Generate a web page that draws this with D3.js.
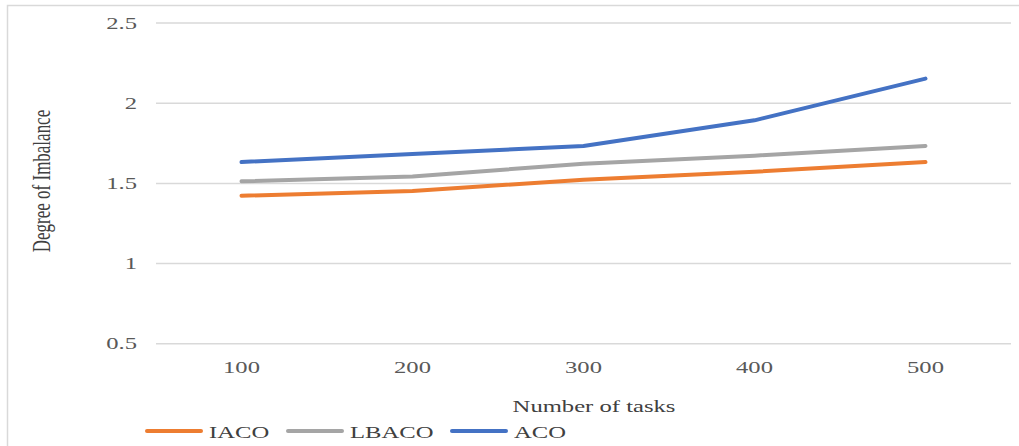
<!DOCTYPE html>
<html>
<head>
<meta charset="utf-8">
<script src="https://cdn.jsdelivr.net/npm/d3@7"></script>
<style>
  html, body { margin: 0; padding: 0; background: #fff; }
  svg { display: block; }
</style>
</head>
<body>
<svg id="chart" width="1019" height="446"></svg>
<script>
// Degree of imbalance by number of tasks for three scheduling algorithms
const categories = ["100", "200", "300", "400", "500"];
const seriesNames = ["IACO", "LBACO", "ACO"];
const iaco  = [1.42, 1.45, 1.52, 1.57, 1.63];
const lbaco = [1.51, 1.54, 1.62, 1.67, 1.73];
const aco   = [1.63, 1.68, 1.73, 1.89, 2.15];
const yTicks = [0.5, 1, 1.5, 2, 2.5];
const colors = ["#ED7D31", "#A5A5A5", "#4472C4"];

const svg = d3.select("#chart");
const W = 1019, H = 446;
const plotLeft = 156, plotRight = 1011, plotTop = 22.5, plotBottom = 343.3;
const SX = 1.45;              // horizontal text stretch
const serif = "'Liberation Serif', 'Times New Roman', serif";

// Outer chart frame
svg.append("rect")
  .attr("x", 7.5).attr("y", 5.5)
  .attr("width", W + 10).attr("height", H + 10)
  .attr("fill", "#fff").attr("stroke", "#d9d9d9").attr("stroke-width", 1.5);

const x = d3.scalePoint().domain(categories).range([plotLeft, plotRight]).padding(0.5);
const y = d3.scaleLinear().domain([0.5, 2.5]).range([plotBottom, plotTop]);

// helper: stretched text anchored at (px, py)
function label(parent, px, py, txt, anchor, size, fill) {
  return parent.append("g")
    .attr("transform", `translate(${px},${py}) scale(${SX},1)`)
    .append("text")
    .attr("text-anchor", anchor)
    .attr("font-family", serif)
    .attr("font-size", size)
    .attr("fill", fill)
    .text(txt);
}

// Gridlines via axis
const yAxis = d3.axisLeft(y).tickValues(yTicks).tickSize(-(plotRight - plotLeft)).tickFormat("");
const gy = svg.append("g").attr("transform", `translate(${plotLeft},0)`).call(yAxis);
gy.select(".domain").remove();
gy.selectAll(".tick line").attr("stroke", "#d9d9d9").attr("stroke-width", 1.5);

// Y tick labels
yTicks.forEach(t => {
  label(svg, 137, y(t) + 6, d3.format("")(t), "end", 17, "#595959");
});

// X tick labels
categories.forEach(c => {
  label(svg, x(c), 373, c, "middle", 17, "#595959");
});

// Axis titles
svg.append("g")
  .attr("transform", `translate(50,181) rotate(-90) scale(1,${SX})`)
  .append("text")
  .attr("text-anchor", "middle")
  .attr("font-family", serif)
  .attr("font-size", 17)
  .attr("fill", "#404040")
  .text("Degree of Imbalance");

label(svg, 594, 412, "Number of tasks", "middle", 17, "#404040");

// Lines
const allSeries = [iaco, lbaco, aco];
const line = d3.line().x((d, i) => x(categories[i])).y(d => y(d));
allSeries.forEach((s, k) => {
  svg.append("path")
    .datum(s)
    .attr("d", line)
    .attr("fill", "none")
    .attr("stroke", colors[k])
    .attr("stroke-width", 4)
    .attr("stroke-linecap", "round")
    .attr("stroke-linejoin", "round");
});

// Legend
const legendX = [147, 288, 452];
seriesNames.forEach((name, k) => {
  svg.append("line")
    .attr("x1", legendX[k]).attr("x2", legendX[k] + 54)
    .attr("y1", 431).attr("y2", 431)
    .attr("stroke", colors[k]).attr("stroke-width", 4)
    .attr("stroke-linecap", "round");
  label(svg, legendX[k] + 62, 437.5, name, "start", 17, "#404040");
});
</script>
</body>
</html>
